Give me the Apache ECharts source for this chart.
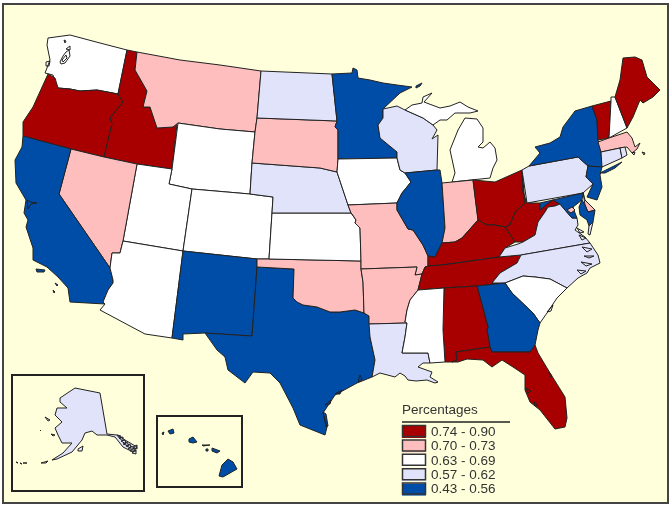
<!DOCTYPE html>
<html>
<head>
<meta charset="utf-8">
<style>html,body{margin:0;padding:0;background:#fff}#chart{width:672px;height:508px}</style>
<script src="https://cdn.jsdelivr.net/npm/echarts@6/dist/echarts.min.js"></script>
</head>
<body>
<div id="chart"></div>
<script>
let classLabels = ['0.74 - 0.90', '0.70 - 0.73', '0.63 - 0.69', '0.57 - 0.62', '0.43 - 0.56'];
let classMin = [0.74, 0.70, 0.63, 0.57, 0.43];
let classMax = [0.90, 0.73, 0.69, 0.62, 0.56];
let classColors = ['#a80000', '#ffbebe', '#ffffff', '#e1e3fb', '#004da8'];
let classStates = [
  ['OR', 'ID', 'OH', 'KY', 'TN', 'WV', 'AL', 'FL', 'VT', 'ME'],
  ['MT', 'SD', 'NV', 'MO', 'OK', 'AR', 'IN', 'MA', 'DE', 'DC'],
  ['WA', 'WY', 'UT', 'CO', 'KS', 'AZ', 'IA', 'MI', 'MS', 'SC', 'NH'],
  ['ND', 'NE', 'WI', 'LA', 'PA', 'VA', 'NC', 'CT', 'RI', 'AK'],
  ['CA', 'NM', 'TX', 'MN', 'IL', 'NY', 'NJ', 'MD', 'GA', 'HI']
];

// outlines, one string per ring
let stateShapes = {
  WA: ['48,38 70,35 100,43 127,50 118,94 97,90 80,91 70,89 58,88 55,83 53,75 45,73 47,68 50,60 47,45', '60,62 63,56 66,52 69,50 70,56 65,63 61,64', '62,60 66,55 67,58 63,62', '66,49 70,46 70,50', '64,40 66,41 65,43', '46,62 50,61 49,66 46,66'],
  OR: ['48,74 55,78 58,88 70,89 80,91 97,90 118,94 123,102 110,118 112,124 104,157 71,149 23,136 23,122 33,107 43,85'],
  ID: ['127,50 137,52 135,70 147,91 143,107 150,107 157,128 173,127 177,124 172,169 137,164 104,157 112,124 110,118 123,102 118,94'],
  MT: ['137,52 180,60 220,65 261,71 257,118 255,132 220,129 178,123 177,124 173,127 157,128 150,107 143,107 147,91 135,70'],
  WY: ['178,123 220,129 255,132 252,163 250,194 192,189 169,184 172,169'],
  UT: ['137,164 172,169 169,184 192,189 183,251 123,241'],
  CO: ['192,189 250,194 273,197 272,213 269,259 257,259 183,251'],
  NV: ['71,149 104,157 137,164 123,241 120,253 112,253 110,268 59,194'],
  CA: ['23,136 71,149 59,194 110,268 113,280 113,283 108,290 103,302 105,304 70,302 68,288 58,277 47,267 33,260 33,248 26,227 28,220 24,213 26,200 16,183 15,160 22,147', '27,200 31,202 37,203 31,204 28,209', '36,269 45,270 44,272 37,272', '55,283 58,285 57,286', '53,290 55,292 54,293'],
  AZ: ['123,241 183,251 172,338 145,334 100,310 105,304 103,302 108,290 113,283 113,280 110,268 112,253 120,253'],
  NM: ['183,251 257,259 257,267 252,336 205,333 183,334 183,340 172,338'],
  TX: ['257,267 294,269 293,298 297,302 303,305 317,307 330,312 340,312 355,310 364,313 369,316 370,337 375,360 372,377 357,383 335,395 323,413 327,427 325,435 300,425 293,408 280,383 270,373 253,372 245,383 228,370 225,357 217,350 205,333 252,336', '323,412 326,414 328,426 326,427', '325,405 331,400 330,404', '335,394 342,390 340,394', '358,382 360,375 362,379'],
  OK: ['257,259 269,259 361,261 361,269 363,282 364,313 355,310 340,312 330,312 317,307 303,305 297,302 293,298 294,269 257,267'],
  KS: ['272,213 351,213 352,214 356,220 355,223 360,228 361,261 269,259'],
  NE: ['252,163 320,168 337,172 338,175 343,190 348,205 351,213 272,213 273,197 250,194'],
  SD: ['257,118 337,121 335,127 338,130 338,159 337,172 320,168 252,163 255,132'],
  ND: ['261,71 332,74 337,121 257,118'],
  MN: ['332,74 352,73 353,68 357,70 358,78 370,80 383,83 397,85 412,87 400,93 383,109 383,118 378,125 380,138 397,152 397,158 338,159 338,130 335,127 337,121', '416,86 422,83 420,86 416,88'],
  IA: ['338,159 397,158 400,170 405,173 411,182 402,193 397,203 348,205 343,190 338,175 337,172'],
  MO: ['348,205 397,203 397,210 408,229 413,230 423,245 428,256 428,266 425,267 422,274 415,275 417,267 361,269 361,261 360,228 355,223 356,220 352,214 351,213'],
  AR: ['361,269 417,267 415,275 422,274 418,290 410,300 407,310 405,322 407,323 369,324 369,316 364,313 363,282'],
  LA: ['369,324 407,323 405,337 402,353 428,353 430,363 423,363 418,367 432,372 430,377 438,382 435,383 427,380 416,381 408,380 405,376 400,373 395,377 380,373 372,377 375,360 370,337'],
  WI: ['383,109 397,106 405,110 423,118 433,125 437,130 432,139 438,135 437,170 405,173 400,170 397,158 397,152 380,138 378,125 383,118'],
  MI: ['405,110 412,105 422,103 423,97 432,93 424,102 440,108 450,106 460,102 468,107 478,111 470,113 455,113 447,120 440,120 433,125 423,118', '465,118 477,119 483,128 483,142 478,147 483,148 490,142 495,148 497,160 493,168 490,178 452,182 455,173 450,150 458,130'],
  IL: ['405,173 437,170 440,170 442,183 445,228 442,243 435,257 428,256 423,245 413,230 408,229 397,210 397,203 402,193 411,182'],
  IN: ['442,183 473,180 478,220 462,238 455,242 442,243 445,228'],
  OH: ['473,180 495,182 522,170 523,192 525,203 515,212 510,225 505,227 495,225 487,225 478,220'],
  KY: ['442,243 455,242 462,238 478,220 487,225 495,225 505,227 507,230 515,242 505,248 499,257 442,265 428,266 428,256 435,257'],
  TN: ['521,255 499,257 442,265 428,266 425,267 422,274 418,290 444,288 477,286 505,283 492,283 500,273 517,263'],
  WV: ['522,170 523,192 527,203 540,203 540,210 547,204 553,200 560,204 555,206 548,207 545,212 538,222 535,235 523,242 515,242 507,230 505,227 510,225 515,212 525,203'],
  VA: ['499,257 505,248 518,244 523,242 535,235 538,222 545,212 548,207 555,206 560,204 565,210 572,218 577,218 578,225 575,230 585,237 590,243 521,255', '589,226 593,222 590,235 588,234', '577,228 584,232 580,233', '579,235 586,238 582,240'],
  NC: ['521,255 590,243 598,255 600,263 590,268 587,273 578,278 567,288 550,279 535,277 523,276 505,283 492,283 500,273 517,263', '582,247 592,249 587,252', '584,256 594,256 589,258', '581,262 592,264 586,266', '577,270 586,271 581,274'],
  SC: ['505,283 523,276 535,277 550,279 567,288 557,298 547,313 540,323 533,313 512,293', '547,312 553,305 551,311'],
  GA: ['477,286 505,283 512,293 533,313 540,323 538,330 535,345 530,352 492,352 490,347 487,330 488,327'],
  AL: ['444,288 477,286 488,327 487,330 490,347 456,352 457,360 452,362 445,362 443,330'],
  MS: ['418,290 444,288 443,330 445,362 430,363 428,353 402,353 405,337 407,323 405,322 407,310 410,300'],
  FL: ['456,352 490,347 492,352 530,352 535,345 538,353 550,373 565,397 567,418 565,427 555,429 540,410 530,402 525,390 525,375 513,367 502,360 492,367 483,360 467,359 458,362 452,362 457,360', '526,388 531,391 528,393', '534,402 538,405 535,406', '549,372 552,376 550,377'],
  PA: ['529,166 578,157 588,166 586,177 593,184 583,193 527,203 522,170'],
  NY: ['529,166 540,153 535,147 550,143 560,137 563,127 575,111 592,106 597,120 598,140 601,152 602,167 588,166 578,157', '600,173 610,168 622,162 615,168 605,173'],
  NJ: ['588,166 602,167 600,175 602,187 597,200 587,197 593,184 586,177'],
  VT: ['592,106 611,101 609,138 598,140 597,120'],
  NH: ['611,97 615,97 627,128 609,138 611,101'],
  ME: ['615,97 620,80 623,58 635,57 642,60 647,77 660,90 653,97 643,103 640,100 633,117 627,128'],
  MA: ['598,142 609,138 627,132 632,138 635,147 640,143 637,149 632,153 627,147 620,148 601,152', '642,152 645,153 644,155', '632,153 635,152 634,155'],
  CT: ['601,152 620,148 622,158 602,167'],
  RI: ['620,148 625,147 627,155 622,158'],
  DE: ['583,192 585,200 595,210 588,212 585,205'],
  MD: ['540,203 583,193 582,200 573,207 575,213 577,218 572,218 565,210 560,204 553,200 547,204 540,210', '582,200 585,205 588,212 595,210 593,222 589,226 587,220 580,215 579,207'],
  DC: ['572,207 575,210 571,213 567,210'],
  AK: ['75,388 100,393 107,434 117,435 125,440 137,447 133,452 123,447 115,437 107,435 97,435 92,431 85,433 82,440 72,452 57,459 52,460 63,453 72,443 62,443 58,435 55,428 62,422 55,415 57,408 67,408 60,402 60,398', '45,417 50,420 48,421', '51,434 55,435 53,436', '40,430 41,431', '16,462 18,463', '20,463 22,464', '23,463 27,463', '41,463 48,461 46,463', '78,449 83,446 82,451 78,451', '117,435 121,436 120,439', '119,438 123,437 123,441', '121,441 125,440 126,444', '123,444 127,442 129,446', '126,446 130,444 131,448', '128,449 132,446 134,449', '130,451 134,448 136,451', '132,453 136,450 136,454', '133,447 137,445 137,449'],
  HI: ['228,459 233,462 237,469 223,477 219,476 222,465', '212,448 220,451 217,453 212,451', '202,445 210,445 210,446 203,446', '206,449 208,449 208,451 206,451', '189,439 193,437 197,442 193,443 189,442', '168,431 173,429 174,433 170,434', '162,433 164,432 163,435']
};

function buildGeo() {
  let features = Object.keys(stateShapes).map(function (name) {
    let polys = stateShapes[name].map(function (ring) {
      return [ring.split(' ').map(function (p) {
        let xy = p.split(',');
        return [+xy[0], -xy[1]];
      })];
    });
    return {type: 'Feature', properties: {name: name}, geometry: {type: 'MultiPolygon', coordinates: polys}};
  });
  return {type: 'FeatureCollection', features: features};
}

echarts.registerMap('usa', buildGeo());

let mapData = [];
classStates.forEach(function (names, i) {
  names.forEach(function (name) {
    mapData.push({name: name, value: (classMin[i] + classMax[i]) / 2});
  });
});

let pieces = classLabels.map(function (label, i) {
  return {min: classMin[i], max: classMax[i], label: label, color: classColors[i]};
});

let legendBoxes = classLabels.map(function (label, i) {
  return {
    type: 'rect',
    z: 100,
    shape: {x: 402.5, y: 425.5 + i * 14.4, width: 23, height: 11},
    style: {fill: 'none', stroke: '#333', lineWidth: 1.5}
  };
});

let option = {
  backgroundColor: '#ffffff',
  animation: false,
  visualMap: {
    type: 'piecewise',
    pieces: pieces,
    left: 402,
    top: 425,
    padding: 0,
    align: 'left',
    itemWidth: 24,
    itemHeight: 12,
    itemGap: 0.4,
    itemSymbol: 'rect',
    textGap: 5,
    selectedMode: false,
    hoverLink: false,
    textStyle: {color: '#333', fontFamily: 'Liberation Sans', fontSize: 13.5}
  },
  graphic: [
    {type: 'rect', z: -10, shape: {x: 3, y: 4, width: 665, height: 499}, style: {fill: '#ffffdc', stroke: '#444', lineWidth: 2}},
    {type: 'rect', z: -5, shape: {x: 12, y: 375, width: 132, height: 116}, style: {fill: 'none', stroke: '#222', lineWidth: 2}},
    {type: 'rect', z: -5, shape: {x: 157, y: 416, width: 85, height: 71}, style: {fill: 'none', stroke: '#222', lineWidth: 2}},
    {type: 'text', z: 100, x: 402, y: 403, style: {text: 'Percentages', fill: '#333', font: '13.5px "Liberation Sans"'}},
    {type: 'line', z: 100, shape: {x1: 402, y1: 422, x2: 510, y2: 422}, style: {stroke: '#222', lineWidth: 1.5}}
  ].concat(legendBoxes),
  series: [
    {
      type: 'map',
      map: 'usa',
      silent: true,
      roam: false,
      aspectScale: 1,
      boundingCoords: [[0, 0], [672, -508]],
      layoutCenter: ['50%', '50%'],
      layoutSize: 672,
      label: {show: false},
      itemStyle: {borderColor: '#222', borderWidth: 1},
      emphasis: {disabled: true},
      select: {disabled: true},
      data: mapData
    }
  ]
};

let chart = echarts.init(document.getElementById('chart'));
chart.setOption(option);
</script>
</body>
</html>
